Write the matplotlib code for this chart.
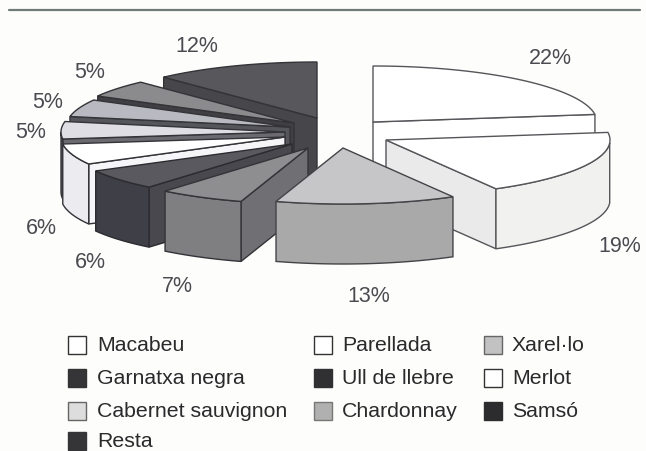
import numpy as np
import matplotlib
matplotlib.use('Agg')
import matplotlib.pyplot as plt
from matplotlib.patches import Polygon, Rectangle

plt.rcParams['font.family'] = ['Liberation Sans', 'DejaVu Sans']

varieties = ['Macabeu', 'Parellada', 'Xarel·lo', 'Garnatxa negra', 'Ull de llebre',
             'Merlot', 'Cabernet sauvignon', 'Chardonnay', 'Samsó', 'Resta']
shares = [22, 19, 13, 7, 6, 6, 5, 5, 5, 12]

# layout, all in picture pixels
apex_x = [373, 386, 343, 308, 292, 285, 285, 290, 294, 317]
apex_y = [122, 140, 148, 148, 144, 137, 132, 127, 123, 118]
label_x = [550, 620, 369, 177, 90, 41, 31, 48, 90, 197]
label_y = [59, 246, 296, 286, 262, 228, 133, 102, 73, 46]
RX, RY, DEPTH = 224, 56, 60

top_col = ['#ffffff', '#ffffff', '#c6c6c8', '#8e8e90', '#59595f', '#ffffff', '#dedee4', '#b9b9c2', '#8b8b8e', '#57575c']
arc_col = ['#ffffff', '#f1f1f0', '#a9a9aa', '#7f7f82', '#3f3f47', '#ebebf0', '#55555a', '#55555a', '#55555a', '#55555a']
wall_col = ['#ffffff', '#eaeaea', '#a9a9aa', '#707074', '#48484e', '#f6f6f8', '#6a6a70', '#55555c', '#3f3f44', '#46464b']
edge_col = ['#55555a', '#55555a', '#444448', '#333338', '#2c2c30', '#333338', '#333338', '#333338', '#333338', '#333338']
box_col = ['#ffffff', '#ffffff', '#c2c2c2', '#353538', '#303033', '#ffffff', '#dddddd', '#b0b0b0', '#2c2c2e', '#353538']
box_edge = ['#333333', '#333333', '#666666', '#333333', '#303033', '#333333', '#666666', '#777777', '#2c2c2e', '#353538']
draw_order = [0, 1, 9, 8, 7, 6, 5, 4, 3, 2]

legend_col_x = [68, 314, 484]
legend_text_x = [97, 342, 512]
legend_row_y = [345, 378, 411, 441]

fig = plt.figure(figsize=(6.46, 4.51), dpi=100, facecolor='#fdfdfc')
ax = fig.add_axes([0, 0, 1, 1])
ax.set_xlim(0, 646)
ax.set_ylim(451, 0)
ax.axis('off')

ax.plot([9, 640], [10, 10], color='#6d7c76', lw=1.6, solid_capstyle='round')

fracs = np.cumsum([0] + shares) / sum(shares) * 2 * np.pi


def rim(i, t):
    # the printed pie is a bit skewed on its right and front side
    skew = np.radians(np.interp(np.degrees(t), [0, 79, 197, 220, 360], [0, 3, 3, 0, 0]))
    return apex_x[i] + RX * np.sin(t + skew), apex_y[i] - RY * np.cos(t + skew)


for n, i in enumerate(draw_order):
    t0, t1 = fracs[i], fracs[i + 1]
    z = 2 + n * 0.1
    ec = edge_col[i]
    # radial wall that faces us
    if np.cos(t1 + np.pi / 2) < 0 or np.cos(t0 - np.pi / 2) < 0:
        t = t1 if np.cos(t1 + np.pi / 2) < 0 else t0
        x, y = rim(i, t)
        ax.add_patch(Polygon([(apex_x[i], apex_y[i]), (x, y), (x, y + DEPTH),
                              (apex_x[i], apex_y[i] + DEPTH)],
                             fc=wall_col[i], ec=ec, lw=1, zorder=z))
    # outer wall, only the front half of the rim
    a0, a1 = max(t0, np.pi / 2), min(t1, 3 * np.pi / 2)
    if a1 > a0:
        ts = np.linspace(a0, a1, 40)
        x, y = rim(i, ts)
        pts = np.column_stack([np.r_[x, x[::-1]], np.r_[y, y[::-1] + DEPTH]])
        ax.add_patch(Polygon(pts, fc=arc_col[i], ec=ec, lw=1, zorder=z))
    # top face
    ts = np.linspace(t0, t1, 60)
    x, y = rim(i, ts)
    pts = np.column_stack([np.r_[apex_x[i], x], np.r_[apex_y[i], y]])
    ax.add_patch(Polygon(pts, fc=top_col[i], ec=ec, lw=1, zorder=z))

for i, v in enumerate(shares):
    ax.text(label_x[i], label_y[i], '%d%%' % v, ha='center', va='center',
            fontsize=15.5, color='#4a4a50')

for i, name in enumerate(varieties):
    row, col = i // 3, i % 3
    y = legend_row_y[row]
    ax.add_patch(Rectangle((legend_col_x[col], y - 9), 18, 18, fc=box_col[i], ec=box_edge[i], lw=1))
    ax.text(legend_text_x[col], y + 6, name, ha='left', va='baseline', fontsize=15.3, color='#2a2a2c')

fig.savefig('out.png', dpi=100, facecolor=fig.get_facecolor())
